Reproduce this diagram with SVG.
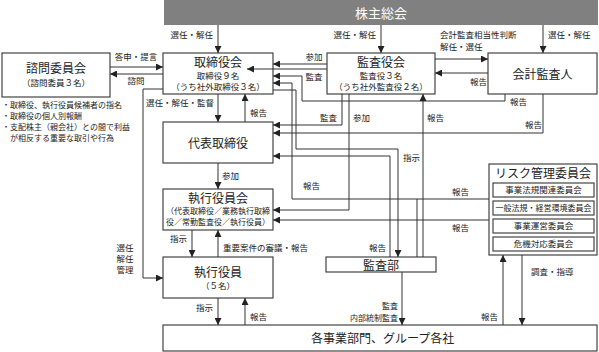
<svg xmlns="http://www.w3.org/2000/svg" width="599" height="352" viewBox="0 0 599 352">
<style>
text{font-family:"Noto Sans CJK JP","Noto Sans",sans-serif;fill:#222}
.box{fill:#fff;stroke:#444;stroke-width:1.2}
.ln{fill:none;stroke:#333;stroke-width:1}
.ar{fill:none;stroke:#333;stroke-width:1;marker-end:url(#ah)}
.t12{font-size:12px;text-anchor:middle}
.t9{font-size:8.5px;text-anchor:middle}
.lb{font-size:8.5px}
.nt{font-size:8px}
.e{text-anchor:end}
.m{text-anchor:middle}
</style>
<defs>
<marker id="ah" viewBox="0 0 8 8" refX="8" refY="4" markerWidth="7" markerHeight="7" markerUnits="userSpaceOnUse" orient="auto"><path d="M0,0L8,4L0,8z" fill="#222"/></marker>
</defs>

<g id="shareholders">
<rect x="164" y="0" width="434" height="25" fill="#808080"/>
<text x="381" y="18" class="t12" style="font-size:13px;fill:#fff">株主総会</text>
</g>

<g id="advisory">
<rect class="box" x="2" y="53" width="108" height="44"/>
<text x="56" y="73" class="t12">諮問委員会</text>
<text x="56" y="86" class="t9">（諮問委員３名）</text>
</g>

<g id="notes">
<text x="2" y="108" class="nt">・取締役、執行役員候補者の指名</text>
<text x="2" y="119" class="nt">・取締役の個人別報酬</text>
<text x="2" y="130" class="nt">・支配株主（親会社）との間で利益</text>
<text x="10" y="141" class="nt">が相反する重要な取引や行為</text>
</g>

<g id="board">
<rect class="box" x="163" y="53" width="110" height="41"/>
<text x="218" y="67" class="t12">取締役会</text>
<text x="218" y="79" class="t9">取締役９名</text>
<text x="218" y="90" class="t9">（うち社外取締役３名）</text>
</g>

<g id="ceo">
<rect class="box" x="163" y="122" width="110" height="41"/>
<text x="218" y="147.5" class="t12">代表取締役</text>
</g>

<g id="exec-committee">
<rect class="box" x="163" y="189" width="110" height="41"/>
<text x="218" y="203" class="t12">執行役員会</text>
<text x="218" y="214" class="t9" style="font-size:8px">（代表取締役／業務執行取締</text>
<text x="218" y="225" class="t9" style="font-size:8px">役／常勤監査役／執行役員）</text>
</g>

<g id="exec-officers">
<rect class="box" x="163" y="257" width="110" height="41"/>
<text x="218" y="277" class="t12">執行役員</text>
<text x="218" y="289" class="t9">（５名）</text>
</g>

<g id="auditors">
<rect class="box" x="327" y="53" width="108" height="41"/>
<text x="381" y="67" class="t12">監査役会</text>
<text x="381" y="79" class="t9">監査役３名</text>
<text x="381" y="90" class="t9">（うち社外監査役２名）</text>
</g>

<g id="accounting-auditor">
<rect class="box" x="488" y="53" width="109" height="41"/>
<text x="542.5" y="78.5" class="t12">会計監査人</text>
</g>

<g id="risk">
<rect class="box" x="489" y="164" width="108" height="91"/>
<text x="543" y="177.5" class="t12">リスク管理委員会</text>
<rect class="box" x="493" y="183" width="101" height="14"/>
<text x="543.5" y="193" class="t9">事業法規関連委員会</text>
<rect class="box" x="493" y="201" width="101" height="14"/>
<text x="543.5" y="211" class="t9" style="font-size:8px">一般法規・経営環境委員会</text>
<rect class="box" x="493" y="219" width="101" height="14"/>
<text x="543.5" y="229" class="t9">事業運営委員会</text>
<rect class="box" x="493" y="237" width="101" height="14"/>
<text x="543.5" y="247" class="t9">危機対応委員会</text>
</g>

<g id="internal-audit">
<rect class="box" x="326" y="257" width="110" height="15"/>
<text x="381" y="269.5" class="t12">監査部</text>
</g>

<g id="business">
<rect class="box" x="163" y="325" width="434" height="26"/>
<text x="311" y="342.5" style="font-size:12px">各事業部門、グループ各社</text>
</g>

<g id="connectors">
<path class="ar" d="M218,25V53"/>
<path class="ar" d="M381,25V53"/>
<path class="ar" d="M543,25V53"/>
<path class="ar" d="M110,67H163"/>
<path class="ar" d="M163,74H110"/>
<path class="ar" d="M163,89H143V278H163"/>
<path class="ar" d="M218,94V122"/>
<path class="ar" d="M245,122V94"/>
<path class="ar" d="M218,163V189"/>
<path class="ar" d="M192,230V257"/>
<path class="ar" d="M218,257V230"/>
<path class="ar" d="M218,298V325"/>
<path class="ar" d="M245,325V298"/>
<path class="ar" d="M327,64H273"/>
<path class="ar" d="M327,69H247"/>
<path class="ar" d="M505,94V101H302V76H273"/>
<path class="ar" d="M543,94V133H273"/>
<path class="ar" d="M435,59H488"/>
<path class="ar" d="M488,73H435"/>
<path class="ar" d="M342,94V125H273"/>
<path class="ar" d="M349,94V210H273"/>
<path class="ar" d="M423,257V94"/>
<path class="ar" d="M417,257V199H292V83H273"/>
<path class="ln" d="M489,199H417"/>
<path class="ar" d="M489,220H273"/>
<path class="ar" d="M273,90H296V149H398V257"/>
<path class="ar" d="M390,257V156H273"/>
<path class="ar" d="M402,272V325"/>
<path class="ar" d="M503,325V255"/>
<path class="ar" d="M522,255V325"/>

<text x="213" y="38" class="lb e">選任・解任</text>
<text x="376" y="38" class="lb e">選任・解任</text>
<text x="548" y="38" class="lb">選任・解任</text>
<text x="136" y="60" class="lb m">答申・提言</text>
<text x="136" y="84" class="lb m">諮問</text>
<text x="125" y="251" class="lb m">選任</text>
<text x="125" y="262" class="lb m">解任</text>
<text x="125" y="273" class="lb m">管理</text>
<text x="214" y="106" class="lb e">選任・解任・監督</text>
<text x="250" y="116" class="lb">報告</text>
<text x="222" y="179" class="lb">参加</text>
<text x="187" y="242" class="lb e">指示</text>
<text x="223" y="251" class="lb">重要案件の審議・報告</text>
<text x="213" y="311" class="lb e">指示</text>
<text x="250" y="320" class="lb">報告</text>
<text x="314" y="60" class="lb m">参加</text>
<text x="314" y="80" class="lb m">監査</text>
<text x="510" y="105" class="lb">報告</text>
<text x="525" y="128" class="lb">報告</text>
<text x="440" y="38" class="lb">会計監査相当性判断</text>
<text x="440" y="50" class="lb">解任・選任</text>
<text x="470" y="85" class="lb">報告</text>
<text x="337" y="121" class="lb e">監査</text>
<text x="353" y="121" class="lb">参加</text>
<text x="427" y="121" class="lb">報告</text>
<text x="303" y="189" class="lb">報告</text>
<text x="452" y="195" class="lb">報告</text>
<text x="452" y="231" class="lb">報告</text>
<text x="403" y="161" class="lb">指示</text>
<text x="386" y="251" class="lb e">報告</text>
<text x="398" y="309" class="lb e" style="font-size:8px">監査</text>
<text x="398" y="320.5" class="lb e" style="font-size:8px">内部統制監査</text>
<text x="498" y="320" class="lb e">報告</text>
<text x="531" y="275" class="lb">調査・指導</text>
</g>
</svg>
